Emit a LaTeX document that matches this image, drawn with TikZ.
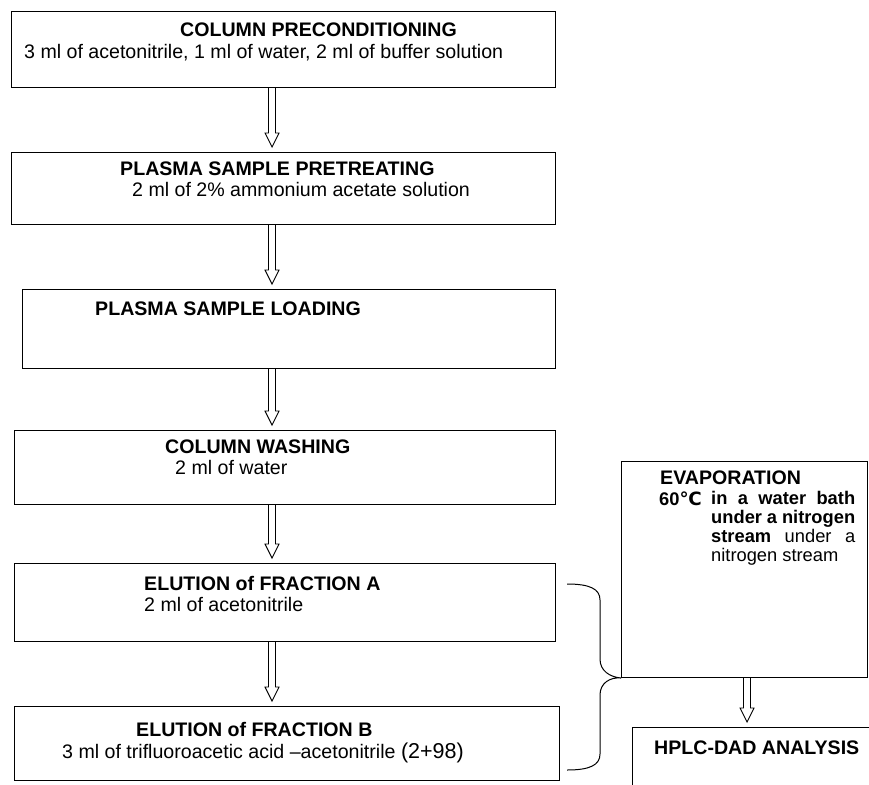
\documentclass[tikz,border=0pt]{standalone}
\usepackage{fontspec}
\setmainfont{Liberation Sans}
\newfontfamily\dvs{DejaVu Sans}
\usetikzlibrary{calc}
\tikzset{
  box/.style={draw, line width=1pt, rectangle, inner sep=0pt, anchor=north west},
  txt/.style={inner sep=0pt, anchor=base west, font=\fontsize{19.6}{23}\selectfont},
  ttl/.style={txt, font=\fontsize{19.6}{23}\selectfont\bfseries},
  harr/.style={draw, line width=0.9pt, fill=white, line join=miter},
  brace/.style={draw, line width=1pt}
}
\newcommand\harrow[2]{\draw[harr] let \p1=#1, \p2=#2 in
  (\x1-3.5pt,\y1) -- (\x1-3.5pt,\y2+19pt) -- (\x1-7pt,\y2+19pt) -- (\x1,\y2+5pt)
  -- (\x1+7pt,\y2+19pt) -- (\x1+3.5pt,\y2+19pt) -- (\x1+3.5pt,\y1);}
\begin{document}
\begin{tikzpicture}[x=1pt,y=-1pt]
\clip (0,0) rectangle (869,784);
\fill[white] (0,0) rectangle (869,784);
% boxes
\node[box, minimum width=544pt, minimum height=76pt] (b1) at (11,11) {};
\node[box, minimum width=544pt, minimum height=72pt] (b2) at (11,152) {};
\node[box, minimum width=533pt, minimum height=79pt] (b3) at (22,289) {};
\node[box, minimum width=541pt, minimum height=74pt] (b4) at (14,430) {};
\node[box, minimum width=541pt, minimum height=78pt] (b5) at (14,563) {};
\node[box, minimum width=545pt, minimum height=74pt] (b6) at (14,706) {};
\node[box, minimum width=246pt, minimum height=216pt] (ev) at (621,461) {};
\node[box, minimum width=260pt, minimum height=80pt] (hp) at (632,727) {};
% texts
\node[ttl] (t1) at (180,37) {COLUMN PRECONDITIONING};
\node[txt] (s1) at (24,59) {3 ml of acetonitrile, 1 ml of water, 2 ml of buffer solution};
\node[ttl] (t2) at (120,175) {PLASMA SAMPLE PRETREATING};
\node[txt] (s2) at (132,196) {2 ml of 2\% ammonium acetate solution};
\node[ttl] (t3) at (95,315) {PLASMA SAMPLE LOADING};
\node[ttl] (t4) at (165,453) {COLUMN WASHING};
\node[txt] (s4) at (175,474) {2 ml of water};
\node[ttl] (t5) at (144,590) {ELUTION of FRACTION A};
\node[txt] (s5) at (144,611) {2 ml of acetonitrile};
\node[ttl] (t6) at (136,736) {ELUTION of FRACTION B};
\node[txt] (s6) at (62,758) {3 ml of trifluoroacetic acid –acetonitrile {\fontsize{21.5}{23}\selectfont(2+98)}};
\node[ttl] (te) at (660,484) {EVAPORATION};
\node[inner sep=0pt, anchor=base west, font=\fontsize{18.3}{19}\selectfont\bfseries] (deg) at (659,505) {60{\dvs\bfseries ℃}};
\node[inner sep=0pt, anchor=north west, text width=144pt, align=justify,
      font=\fontsize{18.3}{19}\selectfont] (eb) at (711,491)
  {\textbf{in a water bath}\linebreak\textbf{under a nitrogen}\linebreak\textbf{stream} under a\linebreak nitrogen stream};
\node[ttl] (th) at (654,754) {HPLC-DAD ANALYSIS};
% arrows
\coordinate (ax) at (272,0);
\harrow{(b1.south -| ax)}{(b2.north -| ax)}
\harrow{(b2.south -| ax)}{(b3.north -| ax)}
\harrow{(b3.south -| ax)}{(b4.north -| ax)}
\harrow{(b4.south -| ax)}{(b5.north -| ax)}
\harrow{(b5.south -| ax)}{(b6.north -| ax)}
\coordinate (ex) at (747,0);
\harrow{(ev.south -| ex)}{(hp.north -| ex)}
% brace
\coordinate (bt) at (567,584);
\coordinate (bb) at (567,770);
\draw[brace] (bt) .. controls (590,584) and (600,589) .. (600,600) -- (600,659)
  .. controls (600,671) and (610,677) .. (ev.south west)
  .. controls (610,677) and (600,683) .. (600,695) -- (600,754)
  .. controls (600,765) and (590,770) .. (bb);
\end{tikzpicture}
\end{document}
